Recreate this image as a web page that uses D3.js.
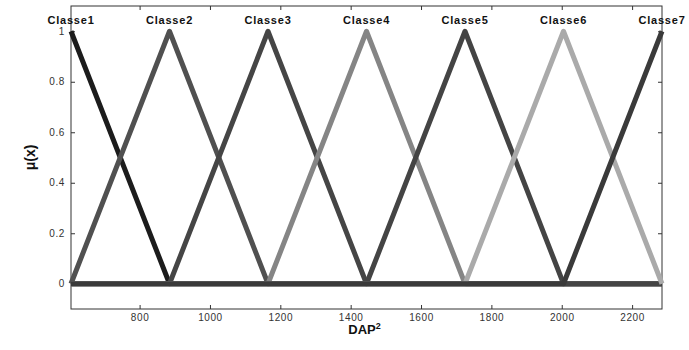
<!DOCTYPE html>
<html>
<head>
<meta charset="utf-8">
<script src="https://cdn.jsdelivr.net/npm/d3@7"></script>
<style>
  body { margin: 0; background: #fff; }
  svg { display: block; font-family: "Liberation Sans", Arial, sans-serif; }
</style>
</head>
<body>
<svg id="chart"></svg>
<script>
// triangular membership functions, peaks every 280
const classes = ['Classe1', 'Classe2', 'Classe3', 'Classe4', 'Classe5', 'Classe6', 'Classe7'];
const centers = [605, 885, 1165, 1445, 1725, 2005, 2285];
const colors = ['#1c1c1c', '#505050', '#454545', '#858585', '#444444', '#aaaaaa', '#3a3a3a'];
const xTicks = [800, 1000, 1200, 1400, 1600, 1800, 2000, 2200];
const yTicks = [0, 0.2, 0.4, 0.6, 0.8, 1];

const width = 689;
const height = 350;
const margin = { top: 6, right: 27, bottom: 41, left: 71 };

const svg = d3.select('#chart')
  .attr('width', width)
  .attr('height', height);

const x = d3.scaleLinear()
  .domain([605, 2285])
  .range([margin.left, width - margin.right]);

const y = d3.scaleLinear()
  .domain([-0.1, 1.1])
  .range([height - margin.bottom, margin.top]);

// axes: ticks point inward, mirrored on top and right
const axisColor = '#333';
const styleAxis = g => {
  g.select('.domain').remove();
  g.selectAll('.tick line').attr('stroke', axisColor);
  g.selectAll('.tick text')
    .attr('fill', '#333')
    .style('font-size', '10px')
    .style('letter-spacing', '0.6px');
};

svg.append('g')
  .attr('transform', `translate(0, ${height - margin.bottom})`)
  .call(d3.axisBottom(x).tickValues(xTicks).tickSizeInner(-4).tickPadding(5).tickFormat(d3.format('d')))
  .call(styleAxis);

svg.append('g')
  .attr('transform', `translate(0, ${margin.top})`)
  .call(d3.axisTop(x).tickValues(xTicks).tickSizeInner(-4).tickFormat(''))
  .call(styleAxis);

svg.append('g')
  .attr('transform', `translate(${margin.left}, 0)`)
  .call(d3.axisLeft(y).tickValues(yTicks).tickSizeInner(-4).tickPadding(6).tickFormat(d3.format('')))
  .call(styleAxis);

svg.append('g')
  .attr('transform', `translate(${width - margin.right}, 0)`)
  .call(d3.axisRight(y).tickValues(yTicks).tickSizeInner(-4).tickFormat(''))
  .call(styleAxis);

svg.append('rect')
  .attr('x', margin.left)
  .attr('y', margin.top)
  .attr('width', width - margin.left - margin.right)
  .attr('height', height - margin.top - margin.bottom)
  .attr('fill', 'none')
  .attr('stroke', axisColor)
  .attr('stroke-width', 1);

// membership curves
const lo = centers[0];
const hi = centers[centers.length - 1];
const line = d3.line()
  .x(d => x(d[0]))
  .y(d => y(d[1]));

classes.forEach((name, i) => {
  const c = centers[i];
  const pts = [];
  if (i > 0) {
    pts.push([lo, 0]);
    pts.push([centers[i - 1], 0]);
  }
  pts.push([c, 1]);
  if (i < classes.length - 1) {
    pts.push([centers[i + 1], 0]);
    pts.push([hi, 0]);
  }
  svg.append('path')
    .datum(pts)
    .attr('fill', 'none')
    .attr('stroke', colors[i])
    .attr('stroke-width', 5)
    .attr('stroke-linejoin', 'round')
    .attr('d', line);

  svg.append('text')
    .attr('x', x(c))
    .attr('y', 24)
    .attr('text-anchor', 'middle')
    .style('font-size', '11px')
    .style('font-weight', 'bold')
    .style('letter-spacing', '0.8px')
    .attr('fill', '#111')
    .text(name);
});

// axis titles
const xTitle = svg.append('text')
  .attr('x', x(1445) - 2)
  .attr('y', 334)
  .attr('text-anchor', 'middle')
  .style('font-size', '13px')
  .style('font-weight', 'bold')
  .attr('fill', '#111');
xTitle.append('tspan').text('DAP');
xTitle.append('tspan').attr('dy', -5).style('font-size', '9px').text('2');

svg.append('text')
  .attr('transform', `translate(35, ${y(0.5)}) rotate(-90)`)
  .attr('text-anchor', 'middle')
  .style('font-size', '14px')
  .style('font-weight', 'bold')
  .attr('fill', '#111')
  .text('μ(x)');
</script>
</body>
</html>
